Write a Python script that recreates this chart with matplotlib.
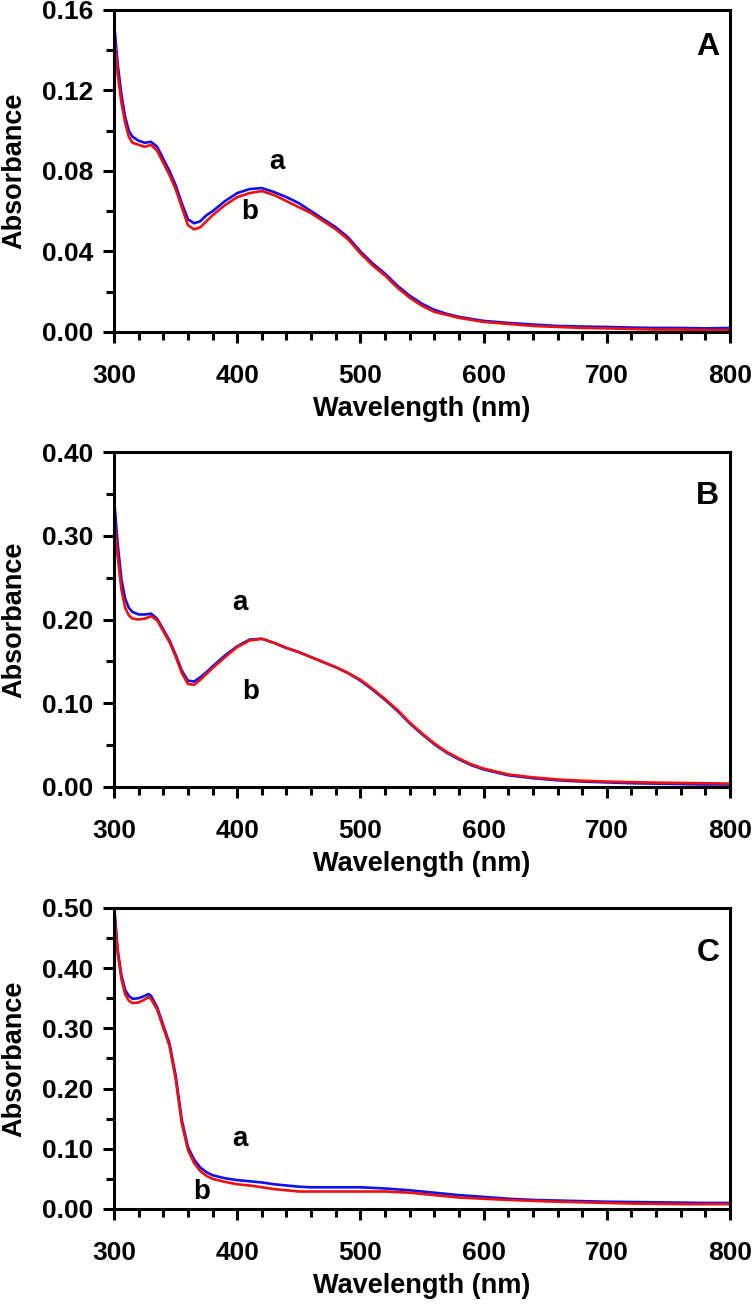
"""
    三个吸收光谱面板 A, B, C
"""
from matplotlib import pyplot as plt
from matplotlib.ticker import MultipleLocator, FormatStrFormatter

plt.rcParams['font.family'] = ['Liberation Sans', 'DejaVu Sans']
plt.rcParams['font.weight'] = 'bold'

# 波长 (nm)
wl_ab = [300, 303, 306, 309, 312, 315, 320, 325, 330, 335, 340, 345, 350, 355, 360,
         365, 370, 375, 380, 390, 400, 410, 420, 430, 440, 450, 460, 470, 480, 490,
         500, 510, 520, 530, 540, 550, 560, 570, 580, 590, 600, 620, 640, 660, 680,
         700, 720, 740, 760, 780, 800]
wl_c = [300, 303, 306, 309, 312, 315, 320, 325, 328, 330, 335, 340, 345, 350, 355,
        360, 365, 370, 375, 380, 390, 400, 410, 420, 430, 440, 450, 460, 480, 500,
        520, 540, 560, 580, 600, 620, 640, 660, 680, 700, 720, 740, 760, 780, 800]

# 面板 A
A_a = [0.154, 0.133, 0.118, 0.107, 0.100, 0.097, 0.095, 0.094, 0.0945, 0.092, 0.086,
       0.080, 0.073, 0.064, 0.056, 0.054, 0.055, 0.058, 0.060, 0.065, 0.069, 0.071,
       0.0715, 0.0695, 0.067, 0.064, 0.060, 0.056, 0.052, 0.047, 0.040, 0.034, 0.029,
       0.023, 0.018, 0.014, 0.011, 0.009, 0.0075, 0.0065, 0.0055, 0.0045, 0.0037,
       0.003, 0.0027, 0.0025, 0.0022, 0.002, 0.002, 0.0018, 0.002]
A_b = [0.149, 0.128, 0.114, 0.104, 0.097, 0.094, 0.093, 0.092, 0.093, 0.090, 0.084,
       0.078, 0.071, 0.062, 0.053, 0.051, 0.052, 0.055, 0.058, 0.063, 0.067, 0.069,
       0.070, 0.068, 0.065, 0.062, 0.059, 0.055, 0.051, 0.046, 0.039, 0.033, 0.028,
       0.022, 0.017, 0.013, 0.010, 0.0085, 0.007, 0.006, 0.005, 0.004, 0.003,
       0.0025, 0.002, 0.0018, 0.0015, 0.0012, 0.0012, 0.001, 0.001]

# 面板 B
B_a = [0.345, 0.290, 0.248, 0.225, 0.214, 0.209, 0.206, 0.206, 0.207, 0.201, 0.188,
       0.175, 0.158, 0.139, 0.127, 0.126, 0.131, 0.137, 0.144, 0.157, 0.168, 0.176,
       0.177, 0.172, 0.166, 0.161, 0.155, 0.149, 0.143, 0.136, 0.127, 0.116, 0.104,
       0.091, 0.076, 0.063, 0.051, 0.041, 0.033, 0.026, 0.021, 0.014, 0.0105, 0.008,
       0.0065, 0.0055, 0.0045, 0.004, 0.0035, 0.003, 0.003]
B_b = [0.325, 0.275, 0.236, 0.214, 0.205, 0.201, 0.200, 0.201, 0.204, 0.199, 0.186,
       0.173, 0.156, 0.136, 0.123, 0.122, 0.128, 0.135, 0.142, 0.155, 0.167, 0.175,
       0.177, 0.172, 0.166, 0.161, 0.155, 0.149, 0.143, 0.136, 0.128, 0.117, 0.105,
       0.092, 0.077, 0.064, 0.052, 0.042, 0.034, 0.027, 0.022, 0.015, 0.0115, 0.009,
       0.0075, 0.0065, 0.0058, 0.0052, 0.0048, 0.0045, 0.004]

# 面板 C
C_a = [0.505, 0.430, 0.388, 0.364, 0.354, 0.349, 0.350, 0.354, 0.357, 0.354, 0.335,
       0.305, 0.275, 0.222, 0.148, 0.103, 0.082, 0.069, 0.061, 0.056, 0.051, 0.048,
       0.046, 0.044, 0.041, 0.039, 0.037, 0.036, 0.036, 0.036, 0.034, 0.031, 0.027,
       0.023, 0.020, 0.017, 0.015, 0.014, 0.013, 0.012, 0.0115, 0.011, 0.0105, 0.010,
       0.010]
C_b = [0.500, 0.425, 0.382, 0.357, 0.346, 0.342, 0.343, 0.348, 0.352, 0.349, 0.331,
       0.301, 0.271, 0.216, 0.142, 0.098, 0.076, 0.063, 0.055, 0.050, 0.045, 0.041,
       0.039, 0.036, 0.033, 0.031, 0.029, 0.029, 0.029, 0.029, 0.029, 0.027, 0.023,
       0.019, 0.017, 0.015, 0.0135, 0.012, 0.011, 0.010, 0.009, 0.0085, 0.008, 0.008,
       0.008]

fig = plt.figure(figsize=(7.53, 13.06), dpi=100)

# 每个面板: 位置, 数据, y 轴范围, 标签位置
panels = [
    dict(rect=[0.1514, 0.7458, 0.8181, 0.2466], x=wl_ab, a=A_a, b=A_b,
         ymax=0.16, major=0.04, minor=0.02, name="A", name_y=0.1416,
         a_pos=(432, 0.0845), b_pos=(410, 0.0596)),
    dict(rect=[0.1514, 0.3974, 0.8181, 0.2565], x=wl_ab, a=B_a, b=B_b,
         ymax=0.40, major=0.10, minor=0.05, name="B", name_y=0.347,
         a_pos=(402, 0.2197), b_pos=(411, 0.1134)),
    dict(rect=[0.1514, 0.0743, 0.8181, 0.2305], x=wl_c, a=C_a, b=C_b,
         ymax=0.50, major=0.10, minor=0.05, name="C", name_y=0.4255,
         a_pos=(402, 0.116), b_pos=(371, 0.028)),
]

for p in panels:
    ax = fig.add_axes(p["rect"])
    ax.plot(p["x"], p["a"], color="#1010ee", linewidth=1.9)
    ax.plot(p["x"], p["b"], color="#ee1010", linewidth=1.9)

    ax.set_xlim(300, 800)
    ax.set_ylim(0, p["ymax"])
    ax.xaxis.set_major_locator(MultipleLocator(100))
    ax.xaxis.set_minor_locator(MultipleLocator(20))
    ax.yaxis.set_major_locator(MultipleLocator(p["major"]))
    ax.yaxis.set_minor_locator(MultipleLocator(p["minor"]))
    ax.yaxis.set_major_formatter(FormatStrFormatter("%.2f"))

    for s in ax.spines.values():
        s.set_linewidth(2.2)
    ax.tick_params(which="major", direction="out", length=8, width=2.2,
                   labelsize=19)
    ax.tick_params(which="minor", direction="out", length=5.5, width=2.2)
    ax.tick_params(axis="x", which="major", pad=15)
    ax.tick_params(axis="y", which="major", pad=7)

    ax.set_xlabel("Wavelength (nm)", fontsize=19.5, fontweight="bold", labelpad=6)
    ax.set_ylabel("Absorbance", fontsize=19.5, fontweight="bold")
    ax.yaxis.set_label_coords(-0.141, 0.5)

    # 面板字母和曲线标注
    ax.text(782, p["name_y"], p["name"], fontsize=23, fontweight="bold",
            ha="center", va="center")
    ax.text(p["a_pos"][0], p["a_pos"][1], "a", fontsize=20, fontweight="bold",
            ha="center", va="center")
    ax.text(p["b_pos"][0], p["b_pos"][1], "b", fontsize=20, fontweight="bold",
            ha="center", va="center")

plt.savefig("out.png", dpi=100)
